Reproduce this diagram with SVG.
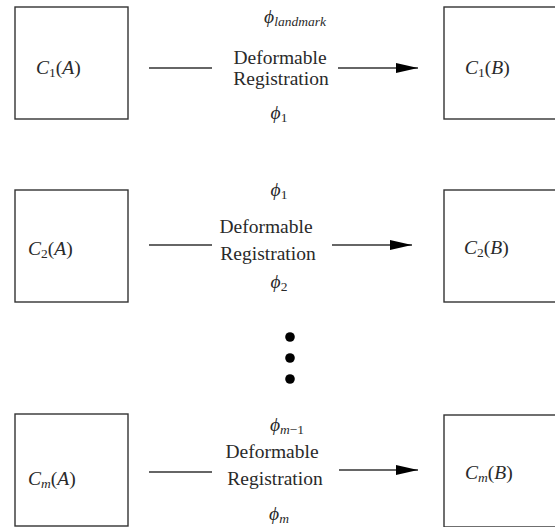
<svg xmlns="http://www.w3.org/2000/svg" width="555" height="527" viewBox="0 0 555 527">
<style>
  .box { fill: #ffffff; stroke: #333333; stroke-width: 1.4; }
  text { font-family: 'Liberation Serif', 'Times New Roman', serif; font-size: 19.5px; fill: #2a2a2a; }
  .it { font-style: italic; }
  .sub { font-size: 13.5px; }
  .mid { text-anchor: middle; }
  .ln { stroke: #333333; stroke-width: 1.4; fill: none; }
  .dot { fill: #000000; }
</style>
<defs>
  <marker id="ah" markerWidth="22" markerHeight="10" refX="22" refY="5" orient="auto" markerUnits="userSpaceOnUse">
    <polygon points="0,0 22,5 0,10" fill="#000000"/>
  </marker>
</defs>
<rect width="555" height="527" fill="#ffffff"/>

<g id="connectors">
  <line class="ln" x1="149" y1="68" x2="212" y2="68"/>
  <line class="ln" x1="338" y1="68" x2="418" y2="68" marker-end="url(#ah)"/>
  <line class="ln" x1="149" y1="245" x2="212" y2="245"/>
  <line class="ln" x1="332" y1="245" x2="412" y2="245" marker-end="url(#ah)"/>
  <line class="ln" x1="149" y1="472" x2="212" y2="472"/>
  <line class="ln" x1="339" y1="470" x2="418" y2="470" marker-end="url(#ah)"/>
</g>

<g id="label1">
  <text class="mid" x="295" y="23"><tspan class="it">ϕ</tspan><tspan class="it sub" dy="3">landmark</tspan></text>
  <text class="mid" x="280" y="64">Deformable</text>
  <text class="mid" x="281" y="85">Registration</text>
  <text class="mid" x="279" y="119"><tspan class="it">ϕ</tspan><tspan class="sub" dy="3">1</tspan></text>
</g>
<g id="label2">
  <text class="mid" x="279" y="196"><tspan class="it">ϕ</tspan><tspan class="sub" dy="3">1</tspan></text>
  <text class="mid" x="266" y="233">Deformable</text>
  <text class="mid" x="268" y="260">Registration</text>
  <text class="mid" x="279" y="288"><tspan class="it">ϕ</tspan><tspan class="sub" dy="3">2</tspan></text>
</g>
<g id="labelm">
  <text class="mid" x="287" y="431"><tspan class="it">ϕ</tspan><tspan class="it sub" dy="3">m</tspan><tspan class="sub">−1</tspan></text>
  <text class="mid" x="272" y="458">Deformable</text>
  <text class="mid" x="275" y="485">Registration</text>
  <text class="mid" x="279" y="520"><tspan class="it">ϕ</tspan><tspan class="it sub" dy="3">m</tspan></text>
</g>

<g id="C1A">
  <rect class="box" x="15" y="7" width="113" height="112"/>
  <text x="36" y="74"><tspan class="it">C</tspan><tspan class="sub" dy="3">1</tspan><tspan dy="-3">(</tspan><tspan class="it">A</tspan>)</text>
</g>
<g id="C1B">
  <rect class="box" x="444" y="7" width="113" height="112"/>
  <text x="465" y="74"><tspan class="it">C</tspan><tspan class="sub" dy="3">1</tspan><tspan dy="-3">(</tspan><tspan class="it">B</tspan>)</text>
</g>
<g id="C2A">
  <rect class="box" x="15" y="190" width="113" height="112"/>
  <text x="28" y="255"><tspan class="it">C</tspan><tspan class="sub" dy="3">2</tspan><tspan dy="-3">(</tspan><tspan class="it">A</tspan>)</text>
</g>
<g id="C2B">
  <rect class="box" x="444" y="190" width="113" height="112"/>
  <text x="464" y="254"><tspan class="it">C</tspan><tspan class="sub" dy="3">2</tspan><tspan dy="-3">(</tspan><tspan class="it">B</tspan>)</text>
</g>
<g id="dots">
  <circle class="dot" cx="290" cy="337" r="4.8"/>
  <circle class="dot" cx="290" cy="358" r="4.8"/>
  <circle class="dot" cx="290" cy="379" r="4.8"/>
</g>
<g id="CmA">
  <rect class="box" x="15" y="414" width="113" height="112"/>
  <text x="28" y="485"><tspan class="it">C</tspan><tspan class="it sub" dy="3">m</tspan><tspan dy="-3">(</tspan><tspan class="it">A</tspan>)</text>
</g>
<g id="CmB">
  <rect class="box" x="444" y="415" width="113" height="112"/>
  <text x="465" y="479"><tspan class="it">C</tspan><tspan class="it sub" dy="3">m</tspan><tspan dy="-3">(</tspan><tspan class="it">B</tspan>)</text>
</g>
</svg>
